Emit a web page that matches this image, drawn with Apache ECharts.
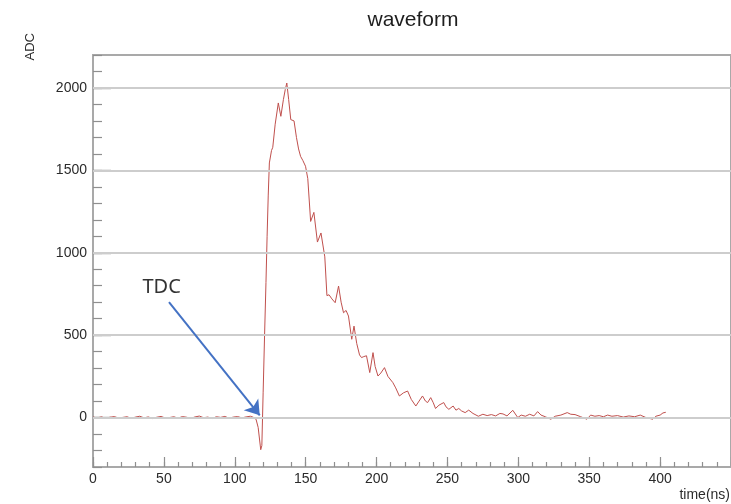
<!DOCTYPE html>
<html><head><meta charset="utf-8">
<script src="https://cdn.jsdelivr.net/npm/echarts@6/dist/echarts.min.js"></script>
<style>html,body{margin:0;padding:0;background:#fff}#c{width:731px;height:504px}</style>
</head><body><div id="c"></div>
<script>
// waveform samples: [time (ns), ADC]
const waveform = [
  [0,3],[3,-2],[6,4],[9,-4],[12,2],[15,6],[18,-3],[21,1],[24,5],[27,-5],[30,3],[33,8],[36,-2],[39,4],
  [42,-6],[45,2],[48,7],[51,-3],[54,0],[57,5],[60,-4],[63,6],[66,2],[69,-5],[72,4],[75,9],[78,-1],
  [81,3],[84,-6],[87,5],[90,1],[93,7],[96,-4],[99,3],[102,6],[105,-2],[108,4],[111,8],[113,2],
  [115,-10],[116.5,-60],[118.3,-195],[119.1,-170],[120,150],[121,495],[122,820],[122.8,1100],
  [123.6,1350],[124.4,1545],[125.9,1620],[126.8,1640],[128.5,1780],[130.7,1909],[132.5,1828],
  [134.3,1930],[135.6,1990],[136.7,2030],[138,1930],[139.5,1808],[141.8,1800],[143.5,1700],
  [145,1630],[146.4,1585],[148,1560],[149.9,1525],[151.5,1450],[153.5,1190],[155.8,1245],
  [158.3,1065],[160.8,1120],[163.5,975],[165,740],[166.5,745],[168.5,720],[170.8,697],
  [173.2,798],[175,700],[176.7,636],[178.5,650],[180.2,616],[182.5,475],[184.1,555],[186,450],
  [188,380],[189.4,364],[191,370],[192.9,375],[195.2,273],[197.5,394],[199,310],[201,252],
  [203,270],[205.6,303],[208,250],[211.5,212],[213.5,180],[216.1,131],[219,150],[221.9,161],
  [224.5,110],[227.7,70],[230,100],[232.4,131],[234.5,100],[236,91],[238.2,121],[240,90],
  [241.6,55],[244,75],[247.4,91],[249,65],[251,50],[254,70],[256,45],[258,55],[260,40],
  [262.5,30],[265,45],[268,25],[271.8,8],[275,20],[278,12],[281,18],[284,10],[287,25],
  [289.2,22],[292,10],[296.1,44],[299.6,0],[302,15],[305,8],[308,20],[311,10],[313.6,36],
  [316,15],[319,5],[322.9,-10],[326,8],[330,15],[334.5,30],[337,20],[340,18],[344,5],
  [348.4,-10],[351,15],[354,8],[357,12],[360,5],[363,15],[366,8],[370,12],[374,3],[378,10],
  [382,5],[386,15],[390,0],[394.8,-10],[397,8],[400,15],[402,28],[404,32]
];
const xRange = [0, 450];
const yRange = [-300, 2200];
const xMajorTicks = [0, 50, 100, 150, 200, 250, 300, 350, 400, 450];
const xTickLabels = [0, 50, 100, 150, 200, 250, 300, 350, 400];
const yMajorTicks = [0, 500, 1000, 1500, 2000];
const titleText = 'waveform';
const xTitle = 'time(ns)';
const yTitle = 'ADC';
const tdcText = 'TDC';
const tdcTextAt = [48.4, 793];
const tdcArrowFrom = [53.6, 700];
const tdcArrowTo = [117.6, 14];

const chart = echarts.init(document.getElementById('c'), null, {renderer: 'canvas'});
const tickColor = '#8f8f8f';
const labelStyle = {fontSize: 14, color: '#2b2b2b', fontFamily: '"Liberation Sans", Arial, sans-serif', formatter: v => String(v)};
chart.setOption({
  animation: false,
  backgroundColor: '#fff',
  grid: {left: 93, top: 55, right: -8, bottom: 37, show: true, borderColor: '#a9a9a9', borderWidth: 2, backgroundColor: '#fff'},
  xAxis: [
    {type: 'value', min: xRange[0], max: xRange[1], interval: 10, position: 'bottom',
     axisLine: {show: false, onZero: false}, axisTick: {inside: true, length: 5, lineStyle: {color: tickColor, width: 1.2}},
     axisLabel: {show: false}, splitLine: {show: false}},
    {type: 'value', min: xRange[0], max: xRange[1], interval: 10, position: 'bottom',
     axisLine: {show: false, onZero: false},
     axisTick: {inside: true, length: 10, customValues: xMajorTicks, lineStyle: {color: tickColor, width: 1.2}},
     axisLabel: Object.assign({customValues: xTickLabels, margin: 5}, labelStyle), splitLine: {show: false}}
  ],
  yAxis: [
    {type: 'value', min: yRange[0], max: yRange[1], interval: 100, position: 'left',
     axisLine: {show: false, onZero: false}, axisTick: {inside: true, length: 9, lineStyle: {color: tickColor, width: 1.2}},
     axisLabel: {show: false}, splitLine: {show: false}},
    {type: 'value', min: yRange[0], max: yRange[1], interval: 100, position: 'left',
     axisLine: {show: false, onZero: false},
     axisTick: {inside: true, length: 18, customValues: yMajorTicks, lineStyle: {color: tickColor, width: 1.4}},
     axisLabel: Object.assign({customValues: yMajorTicks, margin: 6}, labelStyle), splitLine: {show: false}}
  ],
  graphic: [
    {type: 'text', x: 413, y: 10, z: 10, style: {text: titleText, font: '21px "Liberation Sans", Arial, sans-serif', fill: '#1e1e1e', align: 'center', verticalAlign: 'top'}},
    {type: 'text', x: 730, y: 495, z: 10, style: {text: xTitle, font: '14px "Liberation Sans", Arial, sans-serif', fill: '#2b2b2b', align: 'right', verticalAlign: 'middle'}},
    {type: 'text', x: 30, y: 33, rotation: Math.PI / 2, z: 10, style: {text: yTitle, font: '13px "Liberation Sans", Arial, sans-serif', fill: '#2b2b2b', align: 'right', verticalAlign: 'middle'}}
  ],
  series: [
    {type: 'line', name: 'grid', data: waveform, z: 1, silent: true, showSymbol: false,
     lineStyle: {opacity: 0, width: 0},
     markLine: {silent: true, symbol: ['none', 'none'], label: {show: false},
       lineStyle: {color: '#cdcdcd', width: 2, type: 'solid'},
       data: yMajorTicks.map(v => ({yAxis: v}))}},
    {type: 'line', name: 'waveform', data: waveform, z: 3, showSymbol: false, silent: true,
     lineStyle: {color: '#c0504d', width: 1}},
    {type: 'line', name: 'tdc', data: waveform, z: 4, silent: true, showSymbol: false,
     lineStyle: {opacity: 0, width: 0},
     markLine: {silent: true, symbol: ['none', 'arrow'], symbolSize: 14, label: {show: false},
       lineStyle: {color: '#4472c4', width: 2, type: 'solid'},
       data: [[{coord: tdcArrowFrom}, {coord: tdcArrowTo}]]},
     markPoint: {silent: true, symbol: 'circle', symbolSize: 0,
       data: [{coord: tdcTextAt, value: tdcText,
         label: {show: true, position: 'inside', formatter: tdcText, fontSize: 20, color: '#333', fontFamily: '"Noto Sans", "Open Sans", sans-serif'}}]}}
  ]
});
</script>
</body></html>
